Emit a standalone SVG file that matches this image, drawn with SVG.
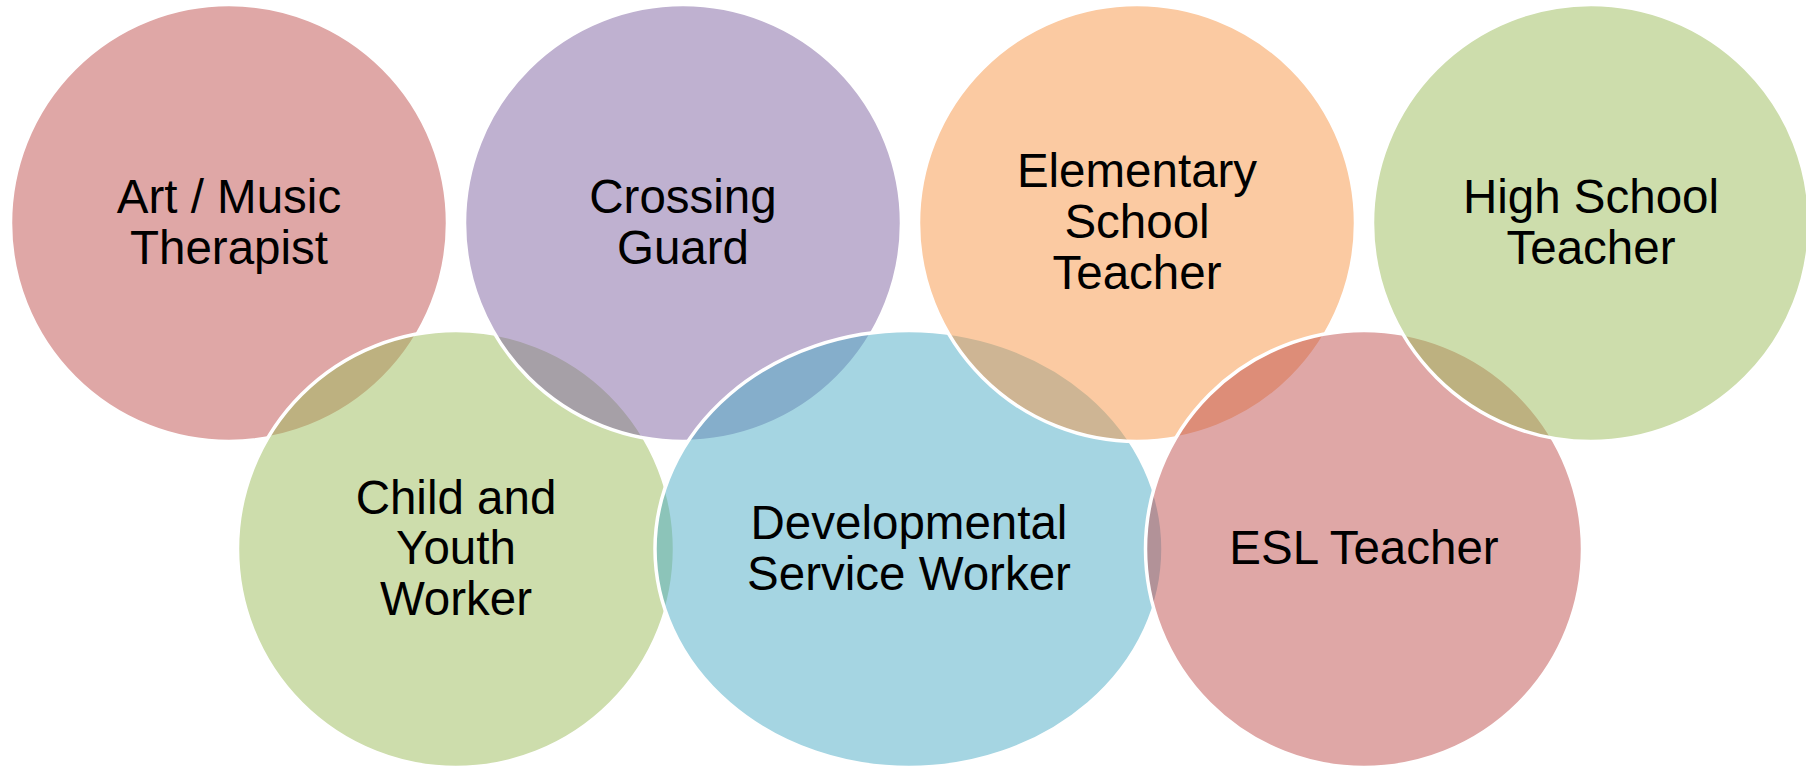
<svg xmlns="http://www.w3.org/2000/svg" width="1806" height="772" viewBox="0 0 1806 772">
  <style>
    .shape { fill-opacity: 0.5; stroke: #ffffff; stroke-width: 3.5; }
    .red { fill: #C0504D; }
    .green { fill: #9BBB59; }
    .purple { fill: #8064A2; }
    .blue { fill: #4BACC6; }
    .orange { fill: #F79646; }
    .label { font-family: "Liberation Sans", Arial, sans-serif; font-size: 47.5px; fill: #000000; text-anchor: middle; }
  </style>
  <rect x="0" y="0" width="1806" height="772" fill="#ffffff"/>
  <g id="connectors"/>
  <g id="node-art-music">
    <circle class="shape red" cx="229" cy="223" r="218.5"/>
    <text class="label"><tspan x="229" y="213">Art / Music</tspan><tspan x="229" y="263.5">Therapist</tspan></text>
  </g>
  <g id="node-child-youth">
    <circle class="shape green" cx="456" cy="549" r="218.5"/>
    <text class="label"><tspan x="456" y="513.5">Child and</tspan><tspan x="456" y="564.3">Youth</tspan><tspan x="456" y="615">Worker</tspan></text>
  </g>
  <g id="node-crossing-guard">
    <circle class="shape purple" cx="683" cy="223" r="218.5"/>
    <text class="label"><tspan x="683" y="213">Crossing</tspan><tspan x="683" y="263.5">Guard</tspan></text>
  </g>
  <g id="node-developmental">
    <ellipse class="shape blue" cx="909" cy="549" rx="254" ry="218.5"/>
    <text class="label"><tspan x="909" y="539">Developmental</tspan><tspan x="909" y="589.5">Service Worker</tspan></text>
  </g>
  <g id="node-elementary">
    <circle class="shape orange" cx="1137" cy="223" r="218.5"/>
    <text class="label"><tspan x="1137" y="187.2">Elementary</tspan><tspan x="1137" y="238">School</tspan><tspan x="1137" y="288.8">Teacher</tspan></text>
  </g>
  <g id="node-esl">
    <circle class="shape red" cx="1364" cy="549" r="218.5"/>
    <text class="label"><tspan x="1364" y="564.3">ESL Teacher</tspan></text>
  </g>
  <g id="node-high-school">
    <circle class="shape green" cx="1591" cy="223" r="218.5"/>
    <text class="label"><tspan x="1591" y="213">High School</tspan><tspan x="1591" y="263.5">Teacher</tspan></text>
  </g>
</svg>
